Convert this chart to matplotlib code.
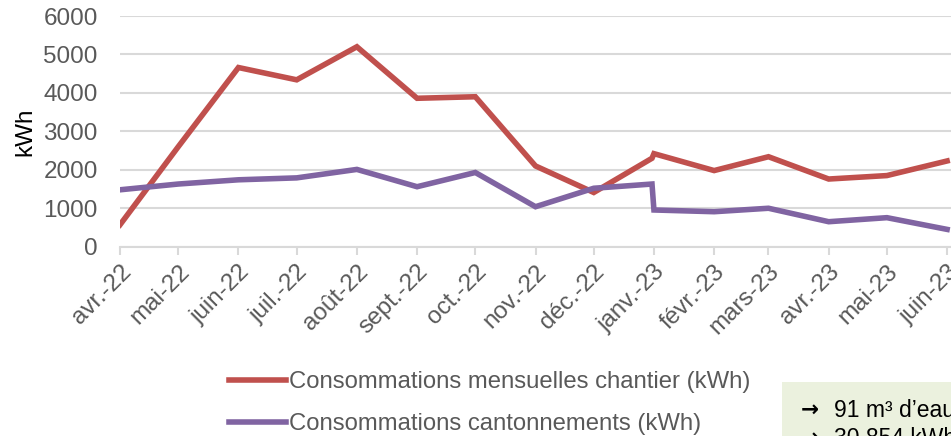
import numpy as np
import matplotlib.pyplot as plt
from matplotlib.patches import Rectangle

plt.rcParams['font.family'] = ['Liberation Sans', 'DejaVu Sans']

# relevés (dates de mesure) et consommations en kWh
dates = np.array(['2022-04-01', '2022-05-01', '2022-06-01', '2022-07-01', '2022-08-01',
                  '2022-09-01', '2022-10-01', '2022-11-01', '2022-12-01', '2022-12-31',
                  '2023-01-01', '2023-02-01', '2023-03-01', '2023-04-01', '2023-05-01',
                  '2023-06-01'], dtype='datetime64[D]')
chantier = [570, 2600, 4660, 4340, 5200, 3860, 3900, 2100, 1410, 2300,
            2420, 1980, 2340, 1760, 1850, 2230]
cantonnements = [1480, 1630, 1740, 1790, 2010, 1560, 1930, 1040, 1520, 1630,
                 955, 910, 1000, 650, 755, 450]

mois = np.arange(np.datetime64('2022-04'), np.datetime64('2023-07'),
                 dtype='datetime64[M]').astype('datetime64[D]')
mois_labels = ['avr.-22', 'mai-22', 'juin-22', 'juil.-22', 'août-22', 'sept.-22',
               'oct.-22', 'nov.-22', 'déc.-22', 'janv.-23', 'févr.-23', 'mars-23',
               'avr.-23', 'mai-23', 'juin-23']

W, H = 951, 436
fig = plt.figure(figsize=(W / 100, H / 100), dpi=100)
ax = fig.add_axes([120 / W, 1 - 246.7 / H, 1 - 120 / W, (246.7 - 16) / H])

rouge = '#c0504d'
violet = '#8064a2'
gris = '#595959'
grille = '#d9d9d9'

ax.plot(dates, chantier, color=rouge, lw=4, solid_joinstyle='miter',
        label='Consommations mensuelles chantier (kWh)')
ax.plot(dates, cantonnements, color=violet, lw=4, solid_joinstyle='miter',
        label='Consommations cantonnements (kWh)')

ax.set_ylim(0, 6000)
ax.set_yticks(range(0, 6001, 1000))
ax.set_xlim(np.datetime64('2022-04-01'), np.datetime64('2023-06-03'))
ax.set_xticks(mois)
ax.set_xticklabels(mois_labels, rotation=45, ha='right', rotation_mode='anchor')

ax.grid(axis='y', color=grille, lw=1.5)
ax.set_axisbelow(True)
for s in ['top', 'right', 'left']:
    ax.spines[s].set_visible(False)
ax.spines['bottom'].set_color(grille)
ax.spines['bottom'].set_linewidth(1.5)
ax.tick_params(axis='x', colors=grille, length=6, width=1.5, labelcolor=gris,
               labelsize=17.5, pad=4)
ax.tick_params(axis='y', length=0, labelcolor=gris, labelsize=17.5, pad=16)
ax.set_ylabel('kWh', fontsize=17.5, color='black', labelpad=5)

fig.legend(loc='upper left', bbox_to_anchor=(229 / W, 1 - 371 / H),
           frameon=False, fontsize=17.2, labelcolor=gris, handlelength=2.4,
           handletextpad=0.1, labelspacing=0.85, borderpad=0, borderaxespad=0)

# encadré de synthèse en bas à droite
fig.patches.append(Rectangle((782 / W, 0), 1, (H - 382) / H, transform=fig.transFigure,
                             facecolor='#ebf1de', edgecolor='none'))
for y, txt in [(410, '91 m³ d’eau'), (438, '30 854 kWh')]:
    fig.text(801 / W, 1 - y / H, '→', fontsize=15.5, color='black', va='center',
             family='DejaVu Sans', weight='bold')
    fig.text(834 / W, 1 - y / H, txt, fontsize=16.5, color='black', va='center')

fig.savefig('out.png', dpi=100)
